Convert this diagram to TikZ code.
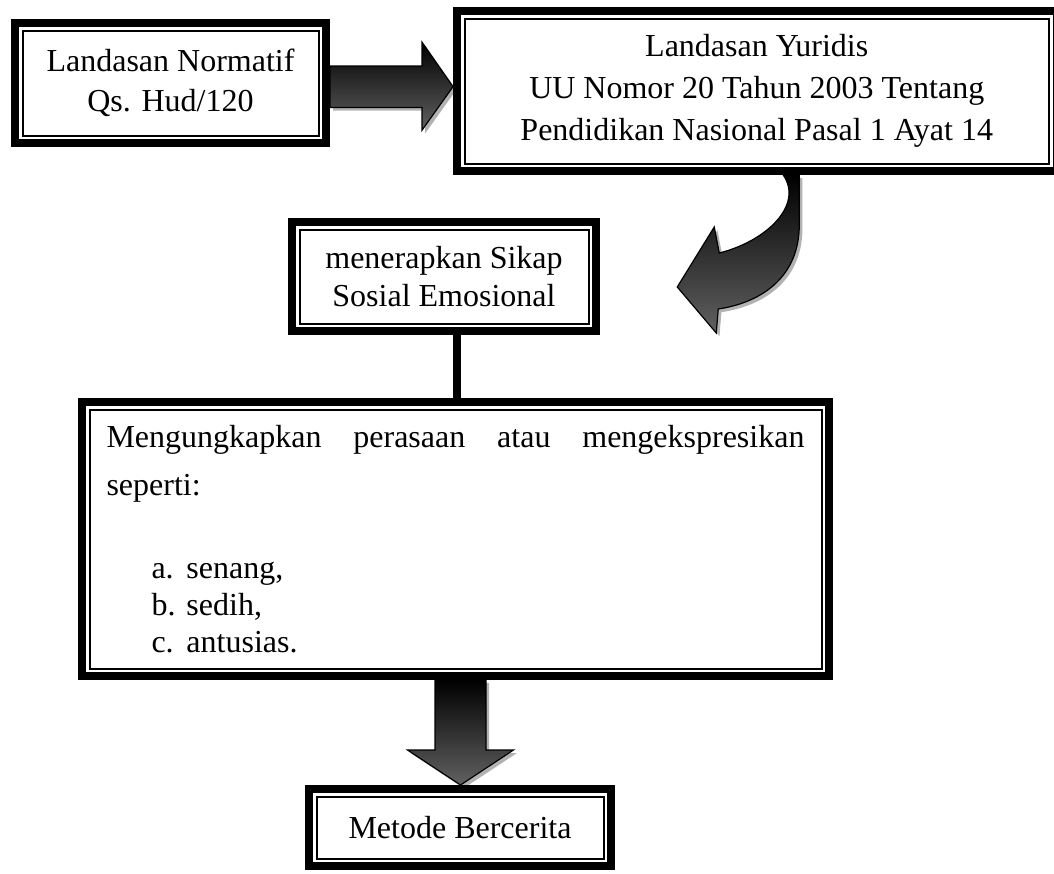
\documentclass[tikz,border=0pt]{standalone}
\usepackage{fontspec}
\setmainfont{Liberation Serif}
\usetikzlibrary{calc,shadows}

\begin{document}
\begin{tikzpicture}[x=0.5pt, y=-0.5pt,
    dbox/.style={draw, line width=4pt, fill=white, align=center, inner sep=0pt,
      path picture={\draw[line width=1pt]
        ([shift={(3.75pt,-3.75pt)}]path picture bounding box.north west) rectangle
        ([shift={(-3.75pt,3.75pt)}]path picture bounding box.south east);}},
    blockarrow/.style={draw=black, line width=0.6pt, line join=miter,
      top color=black, bottom color=black!62,
      drop shadow={shadow xshift=1.6pt, shadow yshift=-1.6pt, opacity=0.3, fill=black}},
    linkline/.style={draw=black, line width=4pt}]
  \useasboundingbox (0,0) rectangle (1054,873);
  \def\hw{25.5}
  \def\hh{53}

  % boxes
  \node[dbox, minimum width=155.5pt, minimum height=60pt,
        font=\fontsize{16}{20}\selectfont] (A) at (170.5,83)
        {Landasan Normatif\\Qs. Hud/120};
  \node[dbox, minimum width=299.75pt, minimum height=80pt,
        font=\fontsize{16}{21}\selectfont] (B) at (756.75,91)
        {Landasan Yuridis\\UU Nomor 20 Tahun 2003 Tentang\\Pendidikan Nasional Pasal 1 Ayat 14};
  \node[dbox, minimum width=152pt, minimum height=54.5pt,
        font=\fontsize{16}{19}\selectfont] (C) at (444,276.5)
        {menerapkan Sikap\\Sosial Emosional};
  \node[dbox, minimum width=373.5pt, minimum height=137pt, text width=349pt,
        align=justify, font=\fontsize{16}{24}\selectfont] (D) at (455.5,539)
        {\parindent=0pt\hyphenpenalty=10000\tolerance=10000
         Mengungkapkan perasaan atau mengekspresikan seperti:\par
         \vspace{23pt}\fontsize{16}{18.5}\selectfont
         \hspace*{22.5pt}\makebox[17.5pt][l]{a.}senang,\par
         \hspace*{22.5pt}\makebox[17.5pt][l]{b.}sedih,\par
         \hspace*{22.5pt}\makebox[17.5pt][l]{c.}antusias.\par};
  \node[dbox, minimum width=151pt, minimum height=38.5pt,
        font=\fontsize{16}{20}\selectfont] (E) at (460,827.5)
        {Metode Bercerita};

  % A -> B
  \coordinate (ab) at ($(A.east)+(0,3.7)$);
  \coordinate (abtip) at (ab -| B.west);
  \path[blockarrow] ($(ab)+(0,-20.7)$) -- ($(abtip)+(-31,-20.7)$)
    -- ($(abtip)+(-31,-44.5)$) -- (abtip) -- ($(abtip)+(-31,43.5)$)
    -- ($(abtip)+(-31,20.7)$) -- ($(ab)+(0,20.7)$) -- cycle;

  % B -> C, curved
  \begin{scope}[shift={(B.south)}]
    \path[blockarrow] (42.5,0) -- (42.5,50)
      .. controls (42.5,100) and (7.5,127) .. (-38.5,134)
      -- (-40.5,158) -- (-79.5,112) -- (-42.5,52) -- (-37.5,78)
      .. controls (10,66) and (47,30) .. (26.5,0) -- cycle;
  \end{scope}

  % C -- D
  \draw[linkline] ($(C.south)+(13,0)$) coordinate (cd) -- (cd |- D.north);

  % D -> E
  \coordinate (de) at ($(D.south)+(5,0)$);
  \coordinate (detip) at (de |- E.north);
  \path[blockarrow] ($(de)+(-\hw,0)$) -- ($(detip)+(-\hw,-35)$)
    -- ($(detip)+(-\hh,-35)$) -- (detip) -- ($(detip)+(\hh,-35)$)
    -- ($(detip)+(\hw,-35)$) -- ($(de)+(\hw,0)$) -- cycle;
\end{tikzpicture}
\end{document}
